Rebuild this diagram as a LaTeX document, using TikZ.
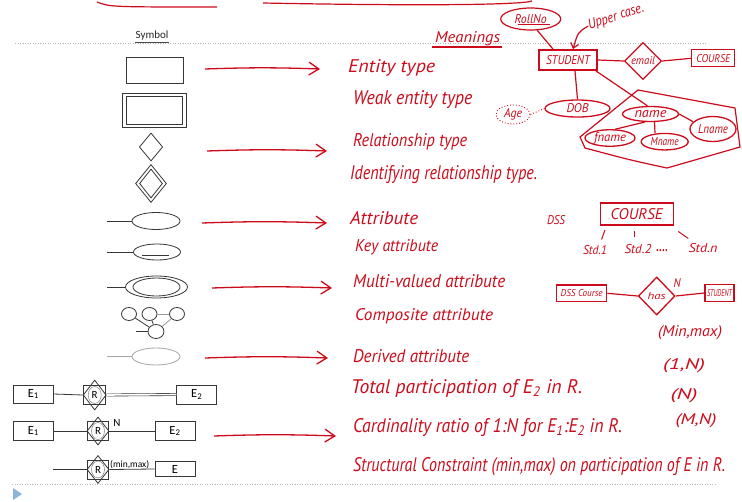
\documentclass[tikz,border=0pt]{standalone}
\usepackage{fontspec}
\usepackage{graphicx}
\setmainfont{Carlito}
\newfontfamily\handfont{PT Sans}
\usetikzlibrary{shapes.geometric,arrows.meta}
\definecolor{ink}{RGB}{204,12,28}
\definecolor{symc}{RGB}{55,55,55}
\definecolor{dotc}{RGB}{185,185,185}
\definecolor{tri}{RGB}{140,180,215}
\newcommand\hwt[3]{\resizebox{#1pt}{#2pt}{\handfont\itshape #3}}
\tikzset{
  sym/.style={draw=symc, line width=0.8pt, inner sep=0pt},
  symlbl/.style={font=\fontsize{12.5}{12.5}\selectfont},
  inkl/.style={draw=ink, line width=1.2pt},
  hw/.style={text=ink, inner sep=0pt},
  hwbox/.style={draw=ink, line width=1.3pt, inner sep=0pt, text=ink},
  redarrow/.style={draw=ink, line width=1.3pt, -{Straight Barb[length=10pt,width=13pt]}},
  sepline/.style={draw=dotc, line width=0.8pt, dash pattern=on 1pt off 1.5pt},
}
\begin{document}
\begin{tikzpicture}[x=1pt,y=-1pt]
\useasboundingbox[fill=white] (0,0) rectangle (742,501);

% top strokes
\draw[inkl] (97,2) .. controls (110,7) .. (217,7);
\draw[inkl] (263,3) .. controls (420,6) and (520,5) .. (532,1);

% separators
\draw[sepline] (15,43) -- (707,43);
\draw[sepline] (12,484) -- (715,484);
\fill[tri] (13,488) -- (22,494) -- (13,500) -- cycle;

% header
\node[inner sep=0pt, font=\fontsize{11}{11}\selectfont, text=black!85] (symh) at (152,36) {Symbol};
\draw[draw=black!70, line width=0.5pt] ([yshift=-6pt]symh.west) -- ([yshift=-6pt]symh.east);
\node[hw, anchor=base west] (mean) at (435,42) {\hwt{65}{11}{Meanings}};
\draw[inkl] (432,47) -- (502,47);

% ---------- symbols ----------
\node[sym, minimum width=57pt, minimum height=26pt] (ent) at (154.5,70) {};
\node[sym, minimum width=64pt, minimum height=34pt] (weako) at (154,110) {};
\node[sym, minimum width=56pt, minimum height=28pt] (weaki) at (154,110) {};
\node[sym, diamond, minimum width=23.4pt, minimum height=28pt] (rel) at (151,147) {};
\node[sym, diamond, minimum width=31pt, minimum height=38pt] (idro) at (151,183.5) {};
\node[sym, diamond, minimum width=23pt, minimum height=29pt] (idri) at (151,183.5) {};

\coordinate (a1l) at (107,221);
\node[sym, ellipse, minimum width=48pt, minimum height=17pt] (a1) at (156,221) {};
\draw[sym] (a1l) -- (a1.west);

\coordinate (a2l) at (107,252);
\node[sym, ellipse, minimum width=47pt, minimum height=16pt] (a2) at (157,252) {};
\draw[sym] (a2l) -- (a2.west);
\draw[sym] ([xshift=-15pt,yshift=-3pt]a2.center) -- ++(27,0);

\coordinate (a3l) at (107,287);
\node[sym, ellipse, minimum width=62pt, minimum height=22pt] (a3o) at (156.5,287) {};
\node[sym, ellipse, minimum width=47pt, minimum height=18pt] (a3i) at (156.5,287) {};
\draw[sym] (a3l) -- (a3o.west);

\node[sym, ellipse, minimum width=15pt, minimum height=13pt] (c1) at (129,314) {};
\node[sym, ellipse, minimum width=15pt, minimum height=13pt] (c2) at (149.5,314) {};
\node[sym, ellipse, minimum width=15pt, minimum height=13pt] (c3) at (177,314) {};
\node[sym, ellipse, minimum width=16pt, minimum height=14pt] (cb) at (156,331.5) {};
\coordinate (cbl) at (136,331.5);
\draw[sym] (cbl) -- (cb.west);
\draw[sym] (c1) -- (cb);
\draw[sym] (c2) -- (cb);
\draw[sym, draw=black!40] (c2) -- (c3);
\draw[sym, draw=black!40] (c3) -- (cb);

\coordinate (a5l) at (107,356.5);
\node[sym, draw=black!35, ellipse, minimum width=48pt, minimum height=17pt] (a5) at (156,356.5) {};
\draw[sym, draw=black!35] (a5l) -- (a5.west);

% row 1
\node[sym, minimum width=40pt, minimum height=18pt, symlbl] (e1a) at (33.3,394) {E\textsubscript{1}};
\node[sym, minimum width=22pt, minimum height=19pt] (r1sq) at (94.7,395) {};
\node[sym, diamond, minimum width=23pt, minimum height=30pt] (r1) at (94.7,395) {};
\node[sym, draw=black!50, line width=0.5pt, ellipse, minimum width=13pt, minimum height=17pt, font=\fontsize{11}{11}\selectfont] (r1c) at (94.7,395) {R};
\node[sym, minimum width=40pt, minimum height=19pt, symlbl] (e2a) at (196.7,394.5) {E\textsubscript{2}};
\draw[sym] (e1a.east) -- (r1.west);
\draw[draw=symc, line width=0.6pt, double=white, double distance=1.6pt] (r1.east) -- (e2a.west);

% row 2
\node[sym, minimum width=40pt, minimum height=18.5pt, symlbl] (e1b) at (33.3,431) {E\textsubscript{1}};
\node[sym, minimum width=21pt, minimum height=19pt] (r2sq) at (98,431) {};
\node[sym, diamond, minimum width=22pt, minimum height=28pt] (r2) at (98,431) {};
\node[sym, draw=black!50, line width=0.5pt, ellipse, minimum width=13pt, minimum height=17pt, font=\fontsize{11}{11}\selectfont] (r2c) at (98,431) {R};
\node[inner sep=0pt, font=\fontsize{11}{11}\selectfont] (nlab) at (117,423) {N};
\node[sym, minimum width=40pt, minimum height=19pt, symlbl] (e2b) at (175,431) {E\textsubscript{2}};
\draw[sym] (e1b.east) -- (r2.west);
\draw[sym] (r2.east) -- (e2b.west);

% row 3
\coordinate (r3l) at (53.3,469.5);
\node[sym, minimum width=21pt, minimum height=19pt] (r3sq) at (98,469.5) {};
\node[sym, diamond, minimum width=22pt, minimum height=28pt] (r3) at (98,469.5) {};
\node[sym, draw=black!50, line width=0.5pt, ellipse, minimum width=13pt, minimum height=17pt, font=\fontsize{11}{11}\selectfont] (r3c) at (98,469.5) {R};
\node[inner sep=0pt, font=\fontsize{9.5}{9.5}\selectfont] (mm) at (129.7,464.5) {(min,max)};
\node[sym, minimum width=40pt, minimum height=15pt, symlbl] (e3) at (175,469) {E};
\draw[sym] (r3l) -- (r3.west);
\draw[sym] (r3.east) -- (e3.west);

% ---------- red arrows ----------
\coordinate (ar1s) at (205,69);   \coordinate (ar1e) at (320,69);
\coordinate (ar2s) at (207,151);  \coordinate (ar2e) at (327,151);
\coordinate (ar3s) at (202,223);  \coordinate (ar3e) at (327,223);
\coordinate (ar4s) at (212,288);  \coordinate (ar4e) at (332,288);
\coordinate (ar5s) at (205,358);  \coordinate (ar5e) at (328,358);
\coordinate (ar6s) at (214,436);  \coordinate (ar6e) at (336,436);
\draw[redarrow] (ar1s) to[bend left=2] (ar1e);
\draw[redarrow] (ar2s) to[bend left=2] (ar2e);
\draw[redarrow] (ar3s) to[bend left=2] (ar3e);
\draw[redarrow] (ar4s) to[bend left=2] (ar4e);
\draw[redarrow] (ar5s) to[bend left=2] (ar5e);
\draw[redarrow] (ar6s) to[bend left=2] (ar6e);

% ---------- meanings ----------
\node[hw, anchor=base west] (m1) at (348,72) {\hwt{87}{13}{Entity type}};
\node[hw, anchor=base west] (m2) at (353,104) {\hwt{119}{14}{Weak entity type}};
\node[hw, anchor=base west] (m3) at (353,146) {\hwt{114}{13}{Relationship type}};
\node[hw, anchor=base west] (m4) at (350,179) {\hwt{187}{14}{Identifying relationship type.}};
\node[hw, anchor=base west] (m5) at (350,224) {\hwt{68}{13}{Attribute}};
\node[hw, anchor=base west] (m6) at (355,251) {\hwt{83}{12}{Key attribute}};
\node[hw, anchor=base west] (m7) at (353,287) {\hwt{152}{13}{Multi-valued attribute}};
\node[hw, anchor=base west] (m8) at (355,320) {\hwt{138}{12}{Composite attribute}};
\node[hw, anchor=base west] (m9) at (353,362) {\hwt{116}{13}{Derived attribute}};
\node[hw, anchor=base west] (m10) at (351,393) {\hwt{231}{14}{Total participation of E\textsubscript{2} in R.}};
\node[hw, anchor=base west] (m11) at (353,432) {\hwt{269}{14}{Cardinality ratio of 1:N for E\textsubscript{1}:E\textsubscript{2} in R.}};
\node[hw, anchor=base west] (m12) at (353,471) {\hwt{372}{14}{Structural Constraint (min,max) on participation of E in R.}};

\node[hw] (p1) at (690,333) {\hwt{64}{11}{(Min,max)}};
\node[hw] (p2) at (684,366) {\hwt{42}{11}{(1,N)}};
\node[hw] (p3) at (684,396) {\hwt{27}{11}{(N)}};
\node[hw] (p4) at (696,421) {\hwt{41}{11}{(M,N)}};

% ---------- right sketch 1 ----------
\node[hwbox, ellipse, line width=1.2pt, minimum width=60pt, minimum height=22pt] (roll) at (530.7,19) {\hwt{32}{9}{RollNo}};
\draw[inkl, line width=0.9pt] ([xshift=-13pt,yshift=-5pt]roll.center) -- ++(32,0);
\node[hwbox, line width=1.8pt, minimum width=58pt, minimum height=20pt] (stud) at (568,60) {\hwt{44}{9}{STUDENT}};
\draw[inkl] (roll.-60) -- ([xshift=-15pt]stud.north);
\node[hw, rotate=18] (uc) at (616,17) {\hwt{58}{10}{Upper case.}};
\draw[inkl, -{Straight Barb[length=5pt,width=8pt]}] (uc.west) .. controls (578,32) .. ([xshift=5pt]stud.north);
\node[hwbox, diamond, minimum width=37pt, minimum height=37pt] (em) at (643,61) {\hwt{24}{8}{email}};
\node[hwbox, minimum width=43pt, minimum height=17pt] (crs) at (713.3,58.3) {\hwt{34}{8}{COURSE}};
\draw[inkl] (stud.east) -- (em.west);
\draw[inkl] (em.east) -- (crs.west);
\node[hwbox, ellipse, minimum width=65pt, minimum height=17pt] (dob) at (577.5,108.5) {\hwt{22}{9}{DOB}};
\draw[inkl] ([xshift=7pt]stud.south) -- (dob.north);
\node[hwbox, ellipse, line width=0.9pt, dotted, minimum width=34pt, minimum height=19pt] (age) at (513,114.5) {\hwt{18}{9}{Age}};
\draw[inkl, line width=0.9pt, dotted] (age.east) -- (dob.west);
\node[hwbox, ellipse, minimum width=56pt, minimum height=15pt] (nm) at (650.5,114) {\hwt{32}{7}{name}};
\draw[inkl] ([xshift=-2pt]stud.south east) -- (nm.110);
\draw[inkl] (638,90) -- (735,108) -- (740,147) -- (667,168) .. controls (630,160) .. (585,148) -- (580,137) -- cycle;
\node[hwbox, ellipse, minimum width=50pt, minimum height=16.5pt] (fn) at (610,138) {\hwt{32}{9}{fname}};
\node[hwbox, ellipse, minimum width=47pt, minimum height=16.5pt] (mn) at (664.7,141.7) {\hwt{28}{8}{Mname}};
\node[hwbox, ellipse, minimum width=46pt, minimum height=25pt] (ln) at (713,129) {\hwt{30}{9}{Lname}};
\draw[inkl] (nm.235) -- (fn.60);
\draw[inkl] ([xshift=4pt]nm.south) -- (mn.north -| 655,0);
\draw[inkl] (nm.east) -- (ln.160);

% ---------- right sketch 2 ----------
\node[hw] (dss) at (556,220) {\hwt{18}{9}{DSS}};
\node[hwbox, minimum width=73pt, minimum height=22pt] (crs2) at (636.7,214) {\hwt{52}{11}{COURSE}};
\node[hw] (s1) at (595,250) {\hwt{24}{9}{Std.1}};
\node[hw] (s2) at (638,249) {\hwt{27}{9}{Std.2}};
\node[hw] (sdots) at (662,251) {\hwt{12}{2}{....}};
\node[hw] (sn) at (703,248) {\hwt{29}{9}{Std.n}};
\coordinate (t1a) at (605,230); \coordinate (t1b) at (601.5,239.5);
\coordinate (t2a) at (634.3,231); \coordinate (t2b) at (634.3,237);
\coordinate (t3a) at (678.3,231.5); \coordinate (t3b) at (688.3,238.5);
\draw[inkl, line width=1pt] (t1a) -- (t1b);
\draw[inkl, line width=1pt] (t2a) -- (t2b);
\draw[inkl, line width=1pt] (t3a) -- (t3b);

\node[hwbox, minimum width=50pt, minimum height=16.7pt] (dssc) at (581.7,293.3) {\hwt{42}{7}{DSS Course}};
\node[hwbox, diamond, minimum width=36.7pt, minimum height=38pt] (has) at (656.7,296) {\hwt{18}{7}{has}};
\node[hw] (nn) at (677,283) {\hwt{7}{9}{N}};
\node[hwbox, minimum width=29pt, minimum height=17.4pt] (st2) at (719.5,293) {\hwt{25}{7}{STUDENT}};
\draw[inkl] (dssc.east) -- (has.west);
\draw[inkl] (has.east) -- (st2.west);
\end{tikzpicture}
\end{document}
